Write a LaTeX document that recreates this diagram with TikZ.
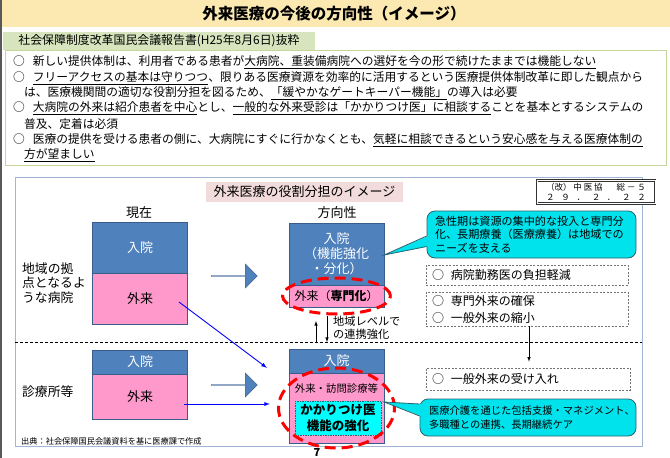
\documentclass[tikz,border=0pt]{standalone}
\usepackage{fontspec}
\setmainfont{Noto Sans CJK JP}
\usepackage{tikz}
\usetikzlibrary{arrows,shapes.arrows}
\definecolor{titlebg}{RGB}{252,233,178}
\definecolor{tabgreen}{RGB}{215,228,189}
\definecolor{linegreen}{RGB}{195,214,155}
\definecolor{framegray}{RGB}{160,182,210}
\definecolor{tabpink}{RGB}{242,220,219}
\definecolor{inblue}{RGB}{79,129,189}
\definecolor{inborder}{RGB}{56,93,138}
\definecolor{outpink}{RGB}{255,153,204}
\definecolor{callcyan}{RGB}{0,226,236}
\definecolor{callline}{RGB}{40,100,110}
\definecolor{kakaricyan}{RGB}{0,255,255}
\newcommand{\fsz}[2]{\fontsize{#1}{#2}\selectfont}

\begin{document}
\begin{tikzpicture}[x=1pt,y=-1pt]
						\tikzstyle{inbox}=[rectangle,draw=inborder,fill=inblue,text=white,inner sep=0pt,minimum width=95pt,font=\fsz{13}{15}]
						\tikzstyle{outbox}=[rectangle,draw=inborder,fill=outpink,inner sep=0pt,minimum width=95pt,font=\fsz{13}{15}]
						\tikzstyle{bigarrow}=[single arrow,draw=inborder,fill=inblue,inner sep=0pt,minimum height=46pt,minimum width=24pt,single arrow head extend=5pt]
						\tikzstyle{ring}=[draw=red,line width=3pt,dash pattern=on 11pt off 6pt]
						\tikzstyle{notebox}=[rectangle,draw=black!55,line width=0.7pt,dash pattern=on 2pt off 1.5pt,inner xsep=6pt,inner ysep=0pt,text width=190pt,align=left,font=\fsz{12}{17}]
						\tikzstyle{bubble}=[rectangle,rounded corners=8pt,draw=callline,fill=callcyan,line width=0.8pt,inner ysep=0pt,align=left]
						\tikzstyle{bullet}=[anchor=west,inner sep=0pt,font=\fsz{11.75}{14}]
						\tikzstyle{plaintext}=[inner sep=0pt,font=\fsz{12.8}{14.5}]
						\tikzstyle{link}=[draw=blue,line width=0.9pt,-latex]
						\tikzstyle{tiearrow}=[draw=black,line width=0.6pt,-latex]
						\useasboundingbox (0,0) rectangle (670,458);
						\fill[black!65] (0,0) rectangle (2,458);
						% title and excerpt
						\fill[titlebg] (2,0) rectangle (670,27);
						\node[font=\bfseries\fsz{15.5}{16}] (title) at (334,14) {外来医療の今後の方向性（イメージ）};
						\draw[linegreen,line width=1pt] (5,50) rectangle (666,165);
						\node[fill=tabgreen,minimum width=312pt,minimum height=18pt,inner sep=0pt,font=\fsz{11.9}{13}] (excerpt) at (159,41) {社会保障制度改革国民会議報告書(H25年8月6日)抜粋};
						\node[bullet] (b1) at (13,62) {○\hspace{8pt}新しい提供体制は、利用者である患者が\underline{大病院、重装備病院への選好を今の形で続けたままでは機能しない}};
						\node[bullet] (b2) at (13,78) {○\hspace{8pt}\underline{フリーアクセスの基本は守りつつ}、限りある医療資源を効率的に活用するという医療提供体制改革に即した観点から};
						\node[bullet] (b2b) at (24,93) {は、医療機関間の適切な役割分担を図るため、\underline{「緩やかなゲートキーパー機能」}の導入は必要};
						\node[bullet] (b3) at (13,108) {○\hspace{8pt}\underline{大病院の外来は紹介患者を中心}とし、\underline{一般的な外来受診は「かかりつけ医」に相談する}ことを基本とするシステムの};
						\node[bullet] (b3b) at (24,124) {普及、定着は必須};
						\node[bullet] (b4) at (13,140) {○\hspace{8pt}医療の提供を受ける患者の側に、大病院にすぐに行かなくとも、\underline{気軽に相談できるという安心感を与える医療体制の}};
						\node[bullet] (b4b) at (24,155) {\underline{方が望ましい}};
						% role sharing
						\draw[framegray,line width=0.8pt] (15,177) rectangle (642,446);
						\node[fill=tabpink,minimum width=197pt,minimum height=20pt,inner sep=0pt,font=\fsz{13}{14}] (roletab) at (304.5,192) {外来医療の役割分担のイメージ};
						\node[draw=black!80,double,line width=0.7pt,double distance=0.8pt,fill=white,minimum width=118pt,minimum height=23pt,inner sep=2pt,font=\fsz{8.5}{10.5},align=left] (docref) at (596,192)
							{\makebox[100pt]{（改）\hfill 中\hfill 医\hfill 協\hspace{14pt}総\hfill －\hfill ５}\\\makebox[100pt]{２\hfill ９\hfill ．\hfill ２\hfill ．\hfill ２\hfill ２}};
						\node[plaintext,font=\fsz{13}{14}] (now) at (139,213) {現在};
						\node[plaintext,font=\fsz{13}{14}] (future) at (337,213) {方向性};
						\node[plaintext,anchor=west,align=left] (hospital) at (22,283) {地域の拠\\点となるよ\\うな病院};
						\node[plaintext,anchor=west] (clinic) at (22,392) {診療所等};
						\node[inbox,minimum height=51pt] (hospIn) at (140,247.5) {入院};
						\node[outbox,minimum height=51pt] (hospOut) at (140,298.5) {外来};
						\node[bigarrow] (arrowTop) at (234,276) {};
						\node[inbox,minimum height=62pt,align=center] (futIn) at (336.5,254) {入院\\（機能強化\\・分化）};
						\node[outbox,minimum height=22pt,font=\fsz{12}{14}] (futOut) at (336.5,296) {外来（\textbf{専門化}）};
						\draw[ring] (futOut) ellipse [x radius=54pt,y radius=18pt];
						\draw[densely dashed,line width=0.9pt] (15,342) -- (642,342);
						\coordinate (upS) at (316,343);
						\coordinate (upE) at (316,321);
						\coordinate (dnS) at (327,316);
						\coordinate (dnE) at (327,342);
						\draw[tiearrow] (upS) -- (upE);
						\draw[tiearrow] (dnS) -- (dnE);
						\node[plaintext,anchor=west,align=left,font=\fsz{11.2}{13.5}] (tie) at (333,328) {地域レベルで\\の連携強化};
						\node[inbox,minimum height=24pt] (clinIn) at (140,362) {入院};
						\node[outbox,minimum height=45pt] (clinOut) at (140,396.5) {外来};
						\node[bigarrow] (arrowBot) at (234,385) {};
						\node[inbox,minimum height=24pt] (cfIn) at (336.5,361) {入院};
						\node[outbox,minimum height=70pt] (cfOut) at (336.5,408) {};
						\node[plaintext,font=\fsz{10.4}{12}] (cfNote) at (336.5,389) {外来・訪問診療等};
						\node[draw=callline,fill=kakaricyan,dash pattern=on 1.5pt off 1pt,line width=0.7pt,minimum width=86pt,minimum height=34pt,inner sep=0pt,align=center,font=\bfseries\fsz{12.5}{16}] (kakari) at (338,418) {かかりつけ医\\機能の強化};
						\draw[ring] (cfOut) ellipse [x radius=58pt,y radius=40pt];
						\draw[link] ([shift={(39pt,-3.5pt)}]hospOut.center) -- ([shift={(-22pt,5pt)}]cfOut.north west);
						\draw[link] ([shift={(-4pt,-7.5pt)}]clinOut.east) -- ([shift={(-19pt,4pt)}]cfOut.west);
						% right column
						\node[bubble,minimum height=47pt,text width=193pt,inner xsep=8pt,font=\fsz{11.1}{13.5}] (callTop) at (531.5,234.5) {急性期は資源の集中的な投入と専門分\\化、長期療養（医療療養）は地域での\\ニーズを支える};
						\fill[callcyan] ([shift={(1.5pt,-1.5pt)}]callTop.west) -- ([yshift=-1pt]futIn.east) -- ([shift={(1.5pt,-12pt)}]callTop.west) -- cycle;
						\draw[callline,line width=0.8pt] ([yshift=-1.5pt]callTop.west) -- ([yshift=-1pt]futIn.east) -- ([yshift=-12pt]callTop.west);
						\node[notebox,minimum height=20pt] (dashA) at (527,275) {○\hspace{7pt}病院勤務医の負担軽減};
						\node[notebox,minimum height=34pt] (dashB) at (527,309) {○\hspace{7pt}専門外来の確保\\○\hspace{7pt}一般外来の縮小};
						\node[notebox,minimum height=22pt,text width=192pt] (dashC) at (528,379) {○\hspace{7pt}一般外来の受け入れ};
						\draw[tiearrow,shorten >=6pt] ([xshift=2pt]dashB.south) -- ([xshift=1pt]dashC.north);
						\node[bubble,minimum height=37pt,text width=198pt,inner xsep=9pt,font=\fsz{10.3}{14}] (callBot) at (528,417.5) {医療介護を通じた包括支援・マネジメント、\\多職種との連携、長期継続ケア};
						\fill[callcyan] ([shift={(1.5pt,13.5pt)}]callBot.west) -- ([yshift=6pt]cfOut.east) -- ([shift={(1.5pt,1.5pt)}]callBot.west) -- cycle;
						\draw[callline,line width=0.8pt] ([yshift=13.5pt]callBot.west) -- ([yshift=6pt]cfOut.east) -- ([yshift=1.5pt]callBot.west);
						\node[plaintext,anchor=west,font=\fsz{8.2}{10}] (source) at (21,441) {出典：社会保障国民会議資料を基に医療課で作成};
						\node[plaintext,font=\bfseries\fsz{11}{12}] (page) at (317,453) {7};
						\end{tikzpicture}
\end{document}
